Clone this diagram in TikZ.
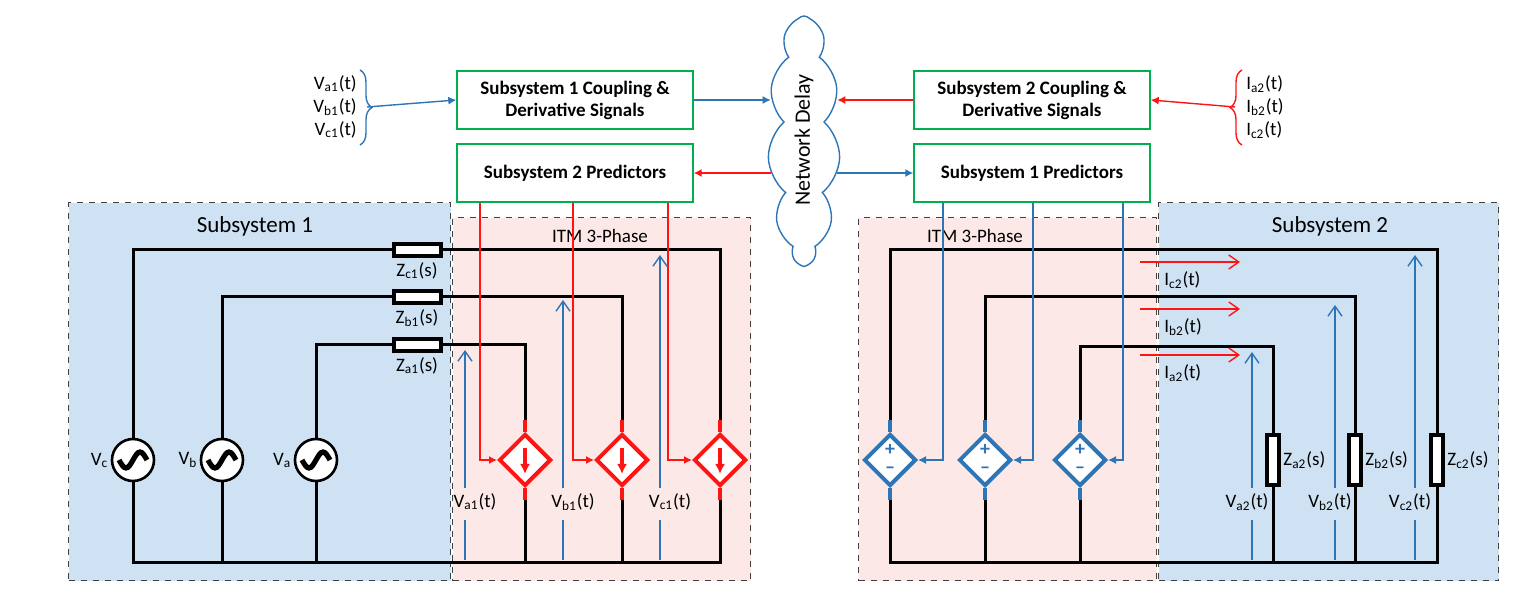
\documentclass[tikz,border=0pt]{standalone}
\usepackage{fontspec}
\setmainfont{Carlito}
\usetikzlibrary{shapes.geometric,shapes.symbols,arrows.meta,decorations.pathreplacing,positioning}
\definecolor{myblue}{RGB}{46,117,182}
\definecolor{bgblue}{RGB}{207,226,243}
\definecolor{bgpink}{RGB}{253,232,232}
\definecolor{mygreen}{RGB}{0,176,80}
\definecolor{myred}{RGB}{255,20,20}
\begin{document}
\begin{tikzpicture}[x=0.5pt,y=-0.5pt,
  wire/.style={black,line width=1.5pt},
  gbox/.style={draw=mygreen,line width=0.7pt,fill=white,minimum width=118pt,minimum height=29pt,align=center,font=\fontsize{9.5}{11}\selectfont\bfseries},
  region/.style={draw=black!75,dashed,line width=0.6pt},
  res/.style={draw=black,line width=2pt,fill=white,inner sep=0pt},
  src/.style={circle,draw=black,line width=1.3pt,fill=white,minimum size=21pt,inner sep=0pt},
  rdia/.style={diamond,draw=myred,line width=2pt,fill=white,minimum size=26pt,inner sep=0pt},
  bdia/.style={diamond,draw=myblue,line width=2pt,fill=white,minimum size=26pt,inner sep=0pt},
  sig/.style={line width=0.7pt},
  vlab/.style={font=\fontsize{9.5}{11}\selectfont,inner sep=1pt},
  barb/.style={-{Straight Barb[length=5pt,width=7pt]}},
  tri/.style={-{Latex[length=4pt,width=4pt]}}
]
\useasboundingbox (0,0) rectangle (1516,598);
% regions
\node[region,fill=bgblue,minimum width=191pt,minimum height=189pt,inner sep=0pt,anchor=north west] (s1) at (68,202) {};
\node[region,fill=bgpink,minimum width=149pt,minimum height=181.5pt,inner sep=0pt,anchor=north west] (itm1) at (452,217) {};
\node[region,fill=bgpink,minimum width=149pt,minimum height=181.5pt,inner sep=0pt,anchor=north west] (itm2) at (858,217) {};
\node[region,fill=bgblue,minimum width=170pt,minimum height=189pt,inner sep=0pt,anchor=north west] (s2) at (1158,202) {};
\node[font=\fontsize{11.5}{13}\selectfont] (t1) at (255,226) {Subsystem 1};
\node[font=\fontsize{9.5}{11}\selectfont] (t2) at (600,236) {ITM 3-Phase};
\node[font=\fontsize{9.5}{11}\selectfont] (t3) at (975,236) {ITM 3-Phase};
\node[font=\fontsize{11.5}{13}\selectfont] (t4) at (1330,226) {Subsystem 2};
% top boxes
\node[gbox] (c1) at (575,100) {Subsystem 1 Coupling \&\\Derivative Signals};
\node[gbox] (p2) at (575,173) {Subsystem 2 Predictors};
\node[gbox] (c2) at (1032,100) {Subsystem 2 Coupling \&\\Derivative Signals};
\node[gbox] (p1) at (1032,173) {Subsystem 1 Predictors};
\node[cloud,cloud puffs=11,cloud puff arc=100,aspect=0.3,draw=myblue,line width=0.7pt,fill=white,minimum width=36pt,minimum height=124pt,inner sep=0pt] (nd) at (804,140) {};
\node[rotate=90,font=\fontsize{11}{13}\selectfont] (ndt) at (804,140) {Network Delay};
\draw[myblue,sig,tri] (c1.east) -- (c1.east-|nd.west);
\draw[myred,sig,tri] (p2.east-|nd.west) -- (p2.east);
\draw[myred,sig,tri] (c2.west) -- (c2.west-|nd.east);
\draw[myblue,sig,tri] (p1.west-|nd.east) -- (p1.west);
% left inputs
\node[vlab,align=right,font=\fontsize{9.5}{11.5}\selectfont] (vin) at (335,107) {V\textsubscript{a1}(t)\\V\textsubscript{b1}(t)\\V\textsubscript{c1}(t)};
\draw[myblue,sig,decorate,decoration={brace,amplitude=6pt}] (360,70) -- (360,145) coordinate[pos=0.5] (lbm);
\coordinate (lbt) at (367,107);
\draw[myblue,sig,tri] (lbt) -- (c1.west);
\node[vlab,align=left,font=\fontsize{9.5}{11.5}\selectfont] (iin) at (1265,107) {I\textsubscript{a2}(t)\\I\textsubscript{b2}(t)\\I\textsubscript{c2}(t)};
\draw[myred,sig,decorate,decoration={brace,amplitude=6pt}] (1242,145) -- (1242,70);
\coordinate (rbt) at (1235,107);
\draw[myred,sig,tri] (rbt) -- (c2.east);
% ===== left circuit
\node[src] (vc) at (133,460) {};
\node[src] (vb) at (222,460) {};
\node[src] (va) at (316,460) {};
\foreach \n in {va,vb,vc}{
 \draw[line width=2.6pt] ([xshift=-7pt]\n.center) sin +(3.5pt,-4pt) cos +(3.5pt,4pt) sin +(3.5pt,4pt) cos +(3.5pt,-4pt);}
\node[vlab,anchor=east] (lvc) at (vc.west) {V\textsubscript{c}};
\node[vlab,anchor=east] (lvb) at (vb.west) {V\textsubscript{b}};
\node[vlab,anchor=east] (lva) at (va.west) {V\textsubscript{a}};
\node[rdia] (da) at (525,460) {};
\node[rdia] (db) at (622,460) {};
\node[rdia] (dc) at (720,460) {};
\foreach \d in {da,db,dc}{
 \draw[myred,line width=2pt,-{Latex[length=5pt,width=5pt]}] ([yshift=6pt]\d.center) -- ([yshift=-7pt]\d.center);}
\coordinate (ktc) at (133,250); \coordinate (ktb) at (222,297); \coordinate (kta) at (316,345);
\coordinate (ec) at (720,250); \coordinate (eb) at (622,297); \coordinate (ea) at (525,345);
\draw[wire] (vc.north) -- (ktc) -- (ec) -- (720,420);
\draw[wire] (vb.north) -- (ktb) -- (eb) -- (622,420);
\draw[wire] (va.north) -- (kta) -- (ea) -- (525,420);
\foreach \d/\x in {da/525,db/622,dc/720}{
 \draw[myred,line width=2pt] (\x,420) -- (\d.north);
 \draw[myred,line width=2pt] (\d.south) -- (\x,500);}
\coordinate (bl) at (133,563); \coordinate (br) at (720,563);
\draw[wire] (vc.south) -- (bl) -- (br) -- (720,500);
\draw[wire] (vb.south) -- (222,563);
\draw[wire] (va.south) -- (316,563);
\draw[wire] (525,500) -- (525,563);
\draw[wire] (622,500) -- (622,563);
\node[res,minimum width=23.5pt,minimum height=6pt] (zc1) at (417,250) {};
\node[res,minimum width=23.5pt,minimum height=6pt] (zb1) at (417,297) {};
\node[res,minimum width=23.5pt,minimum height=6pt] (za1) at (417,345) {};
\node[vlab,below=1pt of zc1] (lzc1) {Z\textsubscript{c1}(s)};
\node[vlab,below=1pt of zb1] (lzb1) {Z\textsubscript{b1}(s)};
\node[vlab,below=1pt of za1] (lza1) {Z\textsubscript{a1}(s)};
% red control lines
\foreach \x/\d in {480/da,573/db,668/dc}{
 \draw[myred,sig,tri] (p2.south-|\x,0) -- (\x,460) -- (\d.west);}
% voltage arrows
\foreach \x/\top/\n/\t in {465/350/la1/a1,563/300/lb1/b1,660/255/lc1/c1}{
 \node[vlab] (\n) at (\x+10,502) {V\textsubscript{\t}(t)};
 \draw[myblue,sig] (\x,560) -- (\x,520);
 \draw[myblue,sig,barb] (\x,488) -- (\x,\top);}
% ===== right circuit
\node[bdia] (ea2) at (890,460) {};
\node[bdia] (eb2) at (985,460) {};
\node[bdia] (ec2) at (1080,460) {};
\foreach \d in {ea2,eb2,ec2}{
 \node[text=myblue,font=\bfseries\fontsize{10}{10}\selectfont,inner sep=0pt] at ([yshift=5pt]\d.center) {+};
 \node[text=myblue,font=\bfseries\fontsize{10}{10}\selectfont,inner sep=0pt] at ([yshift=-5pt]\d.center) {--};}
\node[res,minimum width=6pt,minimum height=25pt] (za2) at (1273,460) {};
\node[res,minimum width=6pt,minimum height=25pt] (zb2) at (1355,460) {};
\node[res,minimum width=6pt,minimum height=25pt] (zc2) at (1437,460) {};
\node[vlab,anchor=west] (lza2) at (za2.east) {Z\textsubscript{a2}(s)};
\node[vlab,anchor=west] (lzb2) at (zb2.east) {Z\textsubscript{b2}(s)};
\node[vlab,anchor=west] (lzc2) at (zc2.east) {Z\textsubscript{c2}(s)};
\draw[wire] (890,420) -- (890,250) -- (1437,250) -- (zc2.north);
\draw[wire] (985,420) -- (985,297) -- (1355,297) -- (zb2.north);
\draw[wire] (1080,420) -- (1080,347) -- (1273,347) -- (za2.north);
\foreach \d/\x in {ea2/890,eb2/985,ec2/1080}{
 \draw[myblue,line width=2pt] (\x,420) -- (\d.north);
 \draw[myblue,line width=2pt] (\d.south) -- (\x,500);}
\draw[wire] (890,500) -- (890,563) -- (1437,563) -- (zc2.south);
\draw[wire] (985,500) -- (985,563);
\draw[wire] (1080,500) -- (1080,563);
\draw[wire] (za2.south) -- (1273,563);
\draw[wire] (zb2.south) -- (1355,563);
\foreach \x/\d in {943/ea2,1033/eb2,1123/ec2}{
 \draw[myblue,sig,tri] (p1.south-|\x,0) -- (\x,460) -- (\d.east);}
\foreach \y/\n/\t in {262/ic2/c2,309/ib2/b2,355/ia2/a2}{
 \draw[myred,sig,barb] (1140,\y) -- (1240,\y);
 \node[vlab,anchor=west] (\n) at (1162,\y+18) {I\textsubscript{\t}(t)};}
\foreach \x/\top/\n/\t in {1252/352/la2/a2,1335/305/lb2/b2,1415/255/lc2/c2}{
 \node[vlab] (\n) at (\x-5,502) {V\textsubscript{\t}(t)};
 \draw[myblue,sig] (\x,560) -- (\x,520);
 \draw[myblue,sig,barb] (\x,488) -- (\x,\top);}
\end{tikzpicture}
\end{document}
